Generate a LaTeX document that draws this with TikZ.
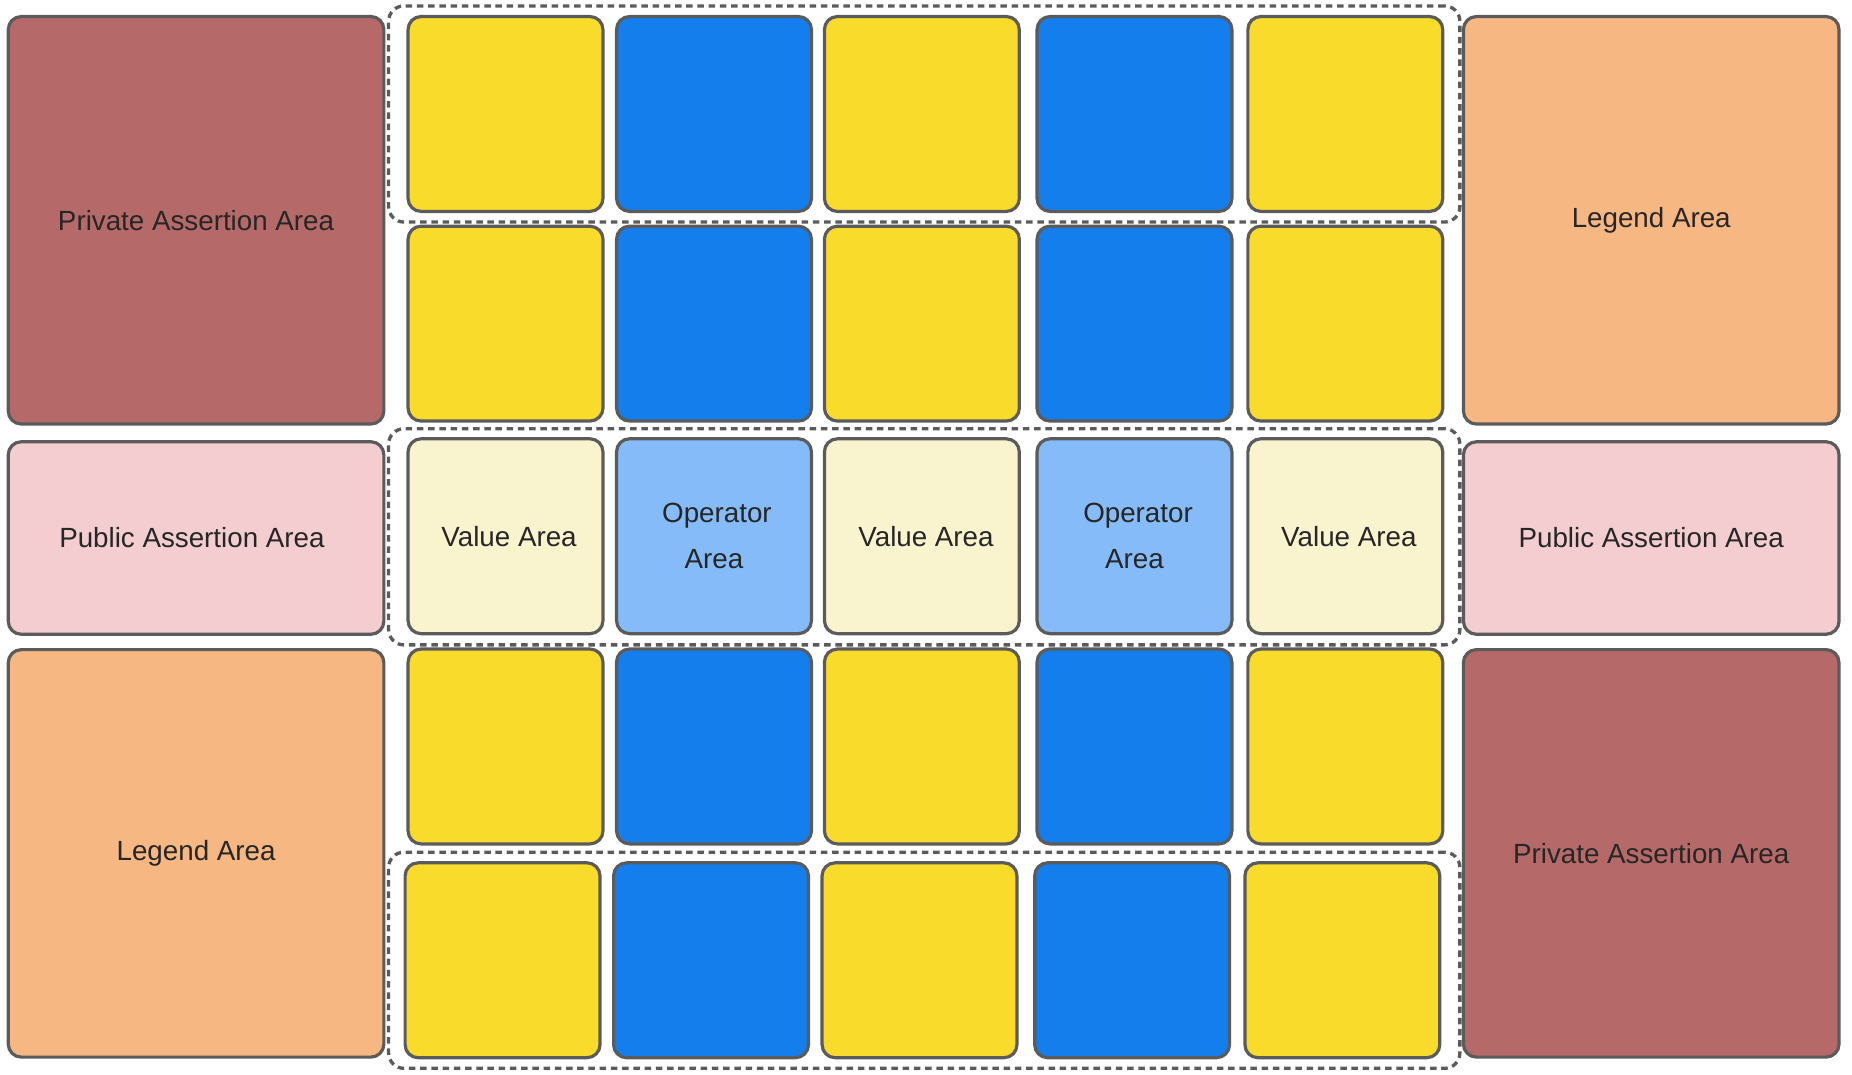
\documentclass[tikz,border=0pt]{standalone}
\usepackage{fontspec}
\setmainfont{Liberation Sans}
\definecolor{strokec}{HTML}{5B5B5B}
\definecolor{txtc}{HTML}{262626}
\definecolor{privc}{HTML}{B56A69}
\definecolor{pubc}{HTML}{F3CDCF}
\definecolor{legc}{HTML}{F6B783}
\definecolor{yelc}{HTML}{F9DC2B}
\definecolor{bluc}{HTML}{137EEC}
\definecolor{lyelc}{HTML}{F9F3CE}
\definecolor{lbluc}{HTML}{85BBF8}
\tikzset{
  box/.style={draw=strokec, line width=2.7pt, rounded corners=11pt, inner sep=0pt, outer sep=0pt,
    text=txtc, font=\fontsize{23.5}{39}\selectfont, align=center},
  side/.style={box, minimum width=318pt},
  tall/.style={side, minimum height=345pt},
  short/.style={side, minimum height=163pt},
  cell/.style={box, minimum width=165pt, minimum height=165pt},
  yel/.style={cell, fill=yelc},
  blu/.style={cell, fill=bluc},
  lyel/.style={cell, fill=lyelc},
  lblu/.style={cell, fill=lbluc},
  region/.style={draw=strokec, line width=2.8pt, dash pattern=on 5.5pt off 4pt, rounded corners=13pt,
    minimum width=907pt, minimum height=183pt, inner sep=0pt, outer sep=0pt}
}
\begin{document}
\begin{tikzpicture}[x=1pt,y=-1pt]
\useasboundingbox (0,0) rectangle (1568,910);
% dashed regions
\node[region] (r1) at (782.5,96.5) {};
\node[region] (r2) at (782.5,454.5) {};
\node[region] (r3) at (782.5,813) {};
% left column
\node[tall, fill=privc] (lpriv) at (166,186.5) {Private Assertion Area};
\node[short, fill=pubc] (lpub) at (166,455.5) {\hspace*{-7pt}Public Assertion Area};
\node[tall, fill=legc] (lleg) at (166,722.5) {Legend Area};
% right column
\node[tall, fill=legc] (rleg) at (1398,186.5) {Legend Area};
\node[short, fill=pubc] (rpub) at (1398,455.5) {Public Assertion Area};
\node[tall, fill=privc] (rpriv) at (1398,722.5) {Private Assertion Area};
% row 1
\node[yel] (a1) at (428,96.5) {};
\node[blu] (a2) at (604.5,96.5) {};
\node[yel] (a3) at (780.5,96.5) {};
\node[blu] (a4) at (960.5,96.5) {};
\node[yel] (a5) at (1139,96.5) {};
% row 2
\node[yel] (b1) at (428,274) {};
\node[blu] (b2) at (604.5,274) {};
\node[yel] (b3) at (780.5,274) {};
\node[blu] (b4) at (960.5,274) {};
\node[yel] (b5) at (1139,274) {};
% row 3
\node[lyel] (c1) at (428,454) {\hspace*{6pt}Value Area};
\node[lblu] (c2) at (604.5,454) {\hspace*{5pt}Operator\\Area};
\node[lyel] (c3) at (780.5,454) {\hspace*{7pt}Value Area};
\node[lblu] (c4) at (960.5,454) {\hspace*{6pt}Operator\\Area};
\node[lyel] (c5) at (1139,454) {\hspace*{6pt}Value Area};
% row 4
\node[yel] (d1) at (428,632) {};
\node[blu] (d2) at (604.5,632) {};
\node[yel] (d3) at (780.5,632) {};
\node[blu] (d4) at (960.5,632) {};
\node[yel] (d5) at (1139,632) {};
% row 5
\node[yel] (e1) at (425.5,813) {};
\node[blu] (e2) at (602,813) {};
\node[yel] (e3) at (778.5,813) {};
\node[blu] (e4) at (958.5,813) {};
\node[yel] (e5) at (1136.5,813) {};
\end{tikzpicture}
\end{document}
